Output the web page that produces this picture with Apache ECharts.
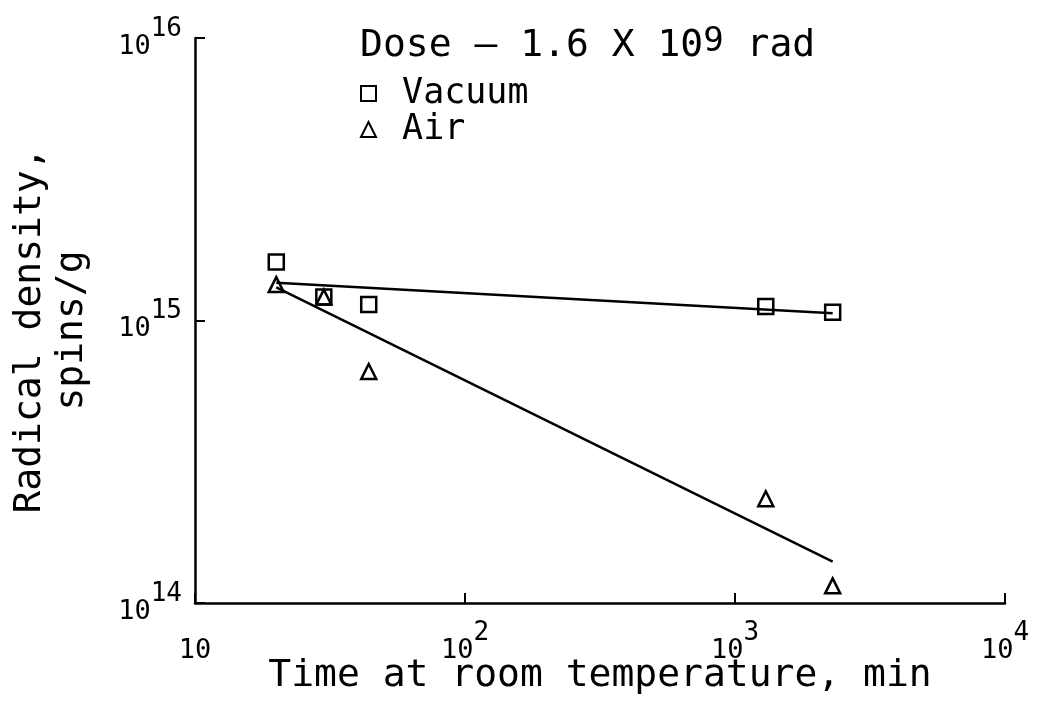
<!DOCTYPE html>
<html>
<head>
<meta charset="utf-8">
<script src="https://cdn.jsdelivr.net/npm/echarts@6/dist/echarts.min.js"></script>
<style>
html, body { margin: 0; background: #fff; }
#chart { width: 1038px; height: 704px; }
</style>
</head>
<body>
<div id="chart"></div>
<script>
// 数据：室温放置时间 (min) 与自由基密度 (spins/g)
var vacuumTime = [20, 30, 44, 1300, 2300];
var vacuumDensity = [1.61e15, 1.21e15, 1.14e15, 1.12e15, 1.07e15];
var airTime = [20, 30, 44, 1300, 2300];
var airDensity = [1.34e15, 1.21e15, 6.6e14, 2.34e14, 1.15e14];
// 拟合直线的两个端点
var vacuumFitTime = [20, 2300];
var vacuumFitDensity = [1.36e15, 1.06e15];
var airFitTime = [20, 2300];
var airFitDensity = [1.31e15, 1.40e14];
// 刻度标签 (10 的幂)
var xTickValues = [10, 100, 1000, 10000];
var xTickSups = ['', '2', '3', '4'];
var yTickValues = [1e14, 1e15, 1e16];
var yTickSups = ['14', '15', '16'];

var FONT = 'DejaVu Sans Mono';

function pairs(xs, ys) {
    var out = [];
    for (var i = 0; i < xs.length; i++) out.push([xs[i], ys[i]]);
    return out;
}
function tickLabel(values, sups) {
    return function (v) {
        for (var i = 0; i < values.length; i++) {
            if (Math.abs(Math.log10(v) - Math.log10(values[i])) < 1e-6) {
                return sups[i] ? '{b|10}{s|' + sups[i] + '}' : '{b|10}';
            }
        }
        return '';
    };
}
var tickRich = {
    b: { fontFamily: FONT, fontSize: 27, lineHeight: 44, verticalAlign: 'bottom', color: '#000' },
    s: { fontFamily: FONT, fontSize: 26, lineHeight: 20, verticalAlign: 'top', color: '#000' }
};

var myChart = echarts.init(document.getElementById('chart'));
myChart.setOption({
    animation: false,
    backgroundColor: '#fff',
    title: {
        left: 355,
        top: 20,
        text: '{b|Dose – 1.6 X 10}{s|9}{b| rad}',
        textStyle: {
            fontWeight: 'normal',
            rich: {
                b: { fontFamily: FONT, fontWeight: 'normal', fontSize: 38, lineHeight: 40, verticalAlign: 'bottom', color: '#000' },
                s: { fontFamily: FONT, fontWeight: 'normal', fontSize: 34, lineHeight: 26, verticalAlign: 'top', color: '#000' }
            }
        }
    },
    legend: {
        orient: 'vertical',
        left: 355,
        top: 71,
        itemWidth: 15,
        itemHeight: 15,
        itemGap: 1,
        selectedMode: false,
        formatter: ' {name}',
        itemStyle: { borderWidth: 2 },
        textStyle: { fontFamily: FONT, fontSize: 35, lineHeight: 30, color: '#000' },
        data: [
            { name: 'Vacuum', icon: 'rect' },
            { name: 'Air', icon: 'triangle' }
        ]
    },
    grid: { left: 195, right: 33, top: 38, bottom: 101, containLabel: false, outerBoundsMode: 'none' },
    xAxis: {
        type: 'log',
        logBase: 10,
        min: 10,
        max: 10000,
        name: 'Time at room temperature, min',
        nameLocation: 'middle',
        nameGap: 54,
        nameMoveOverlap: false,
        nameTextStyle: { fontFamily: FONT, fontSize: 38, color: '#000' },
        axisLine: { lineStyle: { color: '#000', width: 2.5 } },
        axisTick: { inside: true, length: 10, lineStyle: { color: '#000', width: 2 } },
        minorTick: { show: false },
        splitLine: { show: false },
        axisLabel: {
            margin: 17,
            formatter: tickLabel(xTickValues, xTickSups),
            rich: tickRich
        }
    },
    yAxis: {
        type: 'log',
        logBase: 10,
        min: 1e14,
        max: 1e16,
        name: 'Radical density,\nspins/g',
        nameLocation: 'middle',
        nameGap: 102,
        nameRotate: 90,
        nameTextStyle: { fontFamily: FONT, fontSize: 38, lineHeight: 42, color: '#000', padding: [0, 20, 0, 0] },
        axisLine: { lineStyle: { color: '#000', width: 2.5 } },
        axisTick: { inside: true, length: 10, lineStyle: { color: '#000', width: 2 } },
        splitLine: { show: false },
        axisLabel: {
            margin: 13,
            formatter: tickLabel(yTickValues, yTickSups),
            rich: tickRich
        }
    },
    series: [
        {
            name: 'Vacuum fit',
            type: 'line',
            symbol: 'none',
            silent: true,
            lineStyle: { color: '#000', width: 2.5 },
            data: pairs(vacuumFitTime, vacuumFitDensity)
        },
        {
            name: 'Air fit',
            type: 'line',
            symbol: 'none',
            silent: true,
            lineStyle: { color: '#000', width: 2.5 },
            data: pairs(airFitTime, airFitDensity)
        },
        {
            name: 'Vacuum',
            type: 'scatter',
            symbol: 'rect',
            symbolSize: 15,
            silent: true,
            itemStyle: { color: 'rgba(0,0,0,0)', borderColor: '#000', borderWidth: 2.5, opacity: 1 },
            data: pairs(vacuumTime, vacuumDensity)
        },
        {
            name: 'Air',
            type: 'scatter',
            symbol: 'triangle',
            symbolSize: 15,
            silent: true,
            itemStyle: { color: 'rgba(0,0,0,0)', borderColor: '#000', borderWidth: 2.5, opacity: 1 },
            data: pairs(airTime, airDensity)
        }
    ]
});
</script>
</body>
</html>
